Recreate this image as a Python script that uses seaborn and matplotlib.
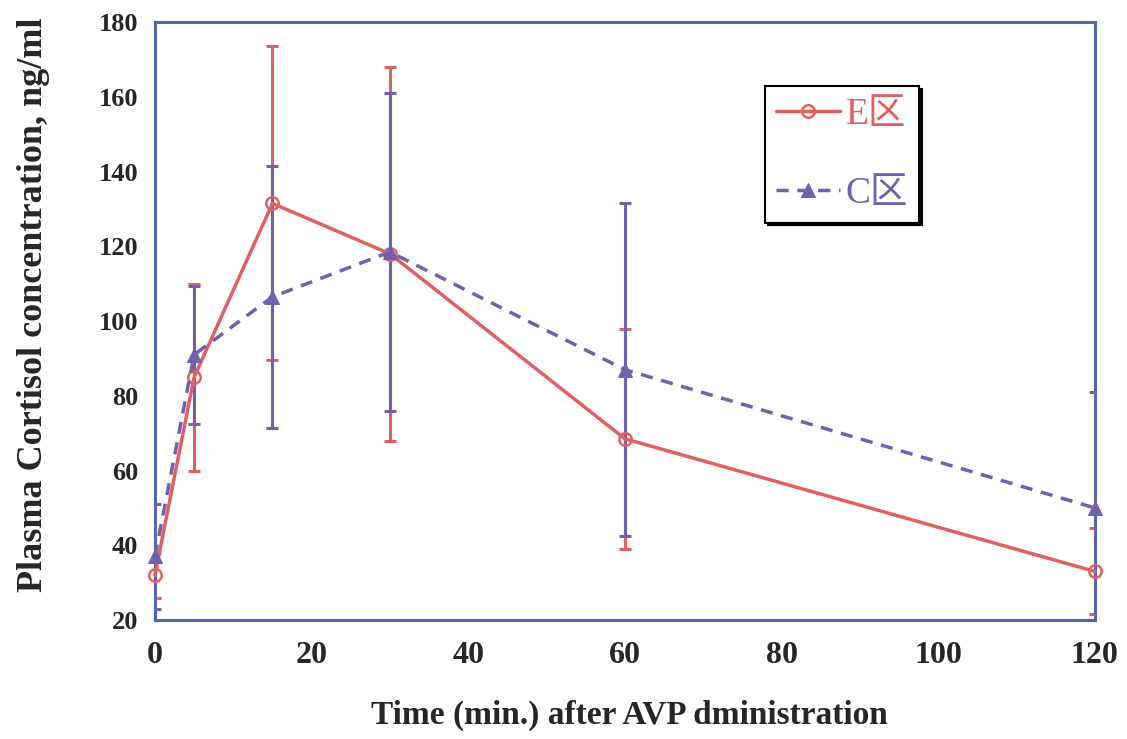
import pandas as pd
import matplotlib.pyplot as plt
import seaborn as sns

sns.set_style("white")
plt.rcParams["font.family"] = ["Liberation Serif", "Noto Sans CJK SC"]
plt.rcParams["font.weight"] = "bold"

# data (mean and SD)
times = [0, 5, 15, 30, 60, 120]
e_mean = [32, 85, 131.5, 118, 68.5, 33]
e_sd = [6, 25, 42, 50, 29.5, 11.5]
c_mean = [37, 91, 106.5, 118.5, 87, 50]
c_sd = [14, 18.5, 35, 42.5, 44.5, 31]

x_ticks = [0, 20, 40, 60, 80, 100, 120]
y_ticks = [20, 40, 60, 80, 100, 120, 140, 160, 180]

RED = "#E0605F"
PURPLE = "#6F60B0"
FRAME = "#4A68B0"

e_df = pd.DataFrame({"time": times, "cortisol": e_mean, "sd": e_sd})
c_df = pd.DataFrame({"time": times, "cortisol": c_mean, "sd": c_sd})

fig = plt.figure(figsize=(11.27, 7.39), dpi=100)
ax = fig.add_axes([0.1375, 0.161, 0.834, 0.809])

# error bars (C drawn over E)
ax.errorbar(e_df["time"], e_df["cortisol"], yerr=e_df["sd"], fmt="none",
            ecolor=RED, elinewidth=2.2, capsize=4, capthick=2.2, zorder=2)
ax.errorbar(c_df["time"], c_df["cortisol"], yerr=c_df["sd"], fmt="none",
            ecolor=PURPLE, elinewidth=2.2, capsize=4, capthick=2.2, zorder=3)

sns.lineplot(data=e_df, x="time", y="cortisol", ax=ax, color=RED,
             linewidth=2.5, marker="o", markersize=9, markerfacecolor="none",
             markeredgecolor=RED, markeredgewidth=1.8, label="E区", zorder=4,
             clip_on=False)
sns.lineplot(data=c_df, x="time", y="cortisol", ax=ax, color=PURPLE,
             linewidth=2.5, linestyle=(0, (3.5, 2.5)), marker="^", markersize=10,
             markeredgecolor=PURPLE, label="C区", zorder=5, clip_on=False)

ax.set_xlim(0, 120)
ax.set_ylim(20, 180)
ax.set_xticks(x_ticks)
ax.set_yticks(y_ticks)
ax.tick_params(axis="x", labelsize=23, direction="in", length=4, color=FRAME, pad=15)
ax.tick_params(axis="y", labelsize=19, direction="in", length=4, color=FRAME, pad=12)
for lab in ax.get_xticklabels() + ax.get_yticklabels():
    lab.set_fontweight("bold")

for spine in ax.spines.values():
    spine.set_color(FRAME)
    spine.set_linewidth(2.2)

ax.set_xlabel("Time (min.) after AVP dministration", fontsize=24,
              fontweight="bold", va="top")
ax.set_ylabel("Plasma Cortisol concentration, ng/ml", fontsize=26,
              fontweight="bold")
ax.xaxis.set_label_coords(0.505, -0.134)
ax.yaxis.set_label_coords(-0.112, 0.527)

leg = ax.legend(loc="upper left", bbox_to_anchor=(0.649, 0.893),
                prop={"family": ["Liberation Serif", "Noto Sans CJK SC"],
                      "size": 27, "weight": "normal"},
                labelcolor="linecolor", frameon=True, fancybox=False,
                shadow={"color": "black", "alpha": 1}, handlelength=1.7,
                labelspacing=1.2, borderpad=0.3, handletextpad=0.15,
                borderaxespad=0)
leg.get_frame().set_edgecolor("black")
leg.get_frame().set_linewidth(1.5)

fig.savefig("out.png", dpi=100)
plt.close(fig)
